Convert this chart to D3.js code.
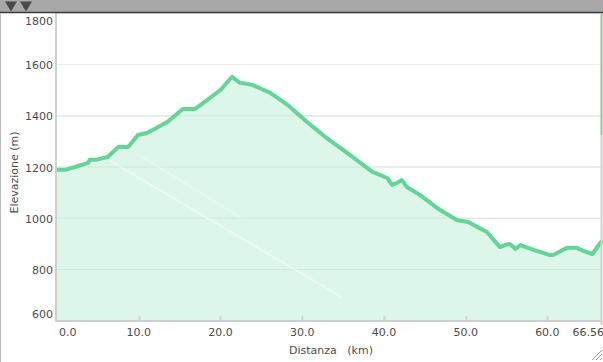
<!DOCTYPE html>
<html>
<head>
<meta charset="utf-8">
<style>
  body{
    margin:0;
    background-color:#fff;
  }
  #vis{
    display:block;
  }
</style>
<script src="https://d3js.org/d3.v7.min.js"></script>
</head>
<body>
<svg id="vis"></svg>
<script>
  var width = 603,
    height = 362,
    //colors
    lineColor = "#62d597",
    fillColor = "#dcf6e9",
    gridColor = "#ededed",
    textColor = "#4d4d4d";

  // data -------------------------------------------------
  var distKm = [0, 1.0, 2.2, 3.8, 4.0, 4.7, 6.2, 7.5, 8.7, 9.9, 11.0, 12.2, 13.5, 15.4, 16.9, 18.4,
    20.0, 21.4, 22.4, 23.9, 26.1, 28.2, 30.6, 32.8, 35.0, 38.6, 40.4, 41.0, 41.6, 42.2, 42.8,
    44.4, 46.5, 48.9, 50.3, 52.6, 54.2, 54.8, 55.4, 56.1, 56.7, 58.3, 60.3, 60.7, 62.4, 63.6,
    64.4, 65.5, 66.56];
  var elevM = [1187, 1187, 1198, 1214, 1226, 1226, 1237, 1276, 1276, 1323, 1331, 1351, 1374, 1425, 1425, 1460,
    1499, 1550, 1527, 1519, 1488, 1441, 1374, 1316, 1265, 1179, 1155, 1128, 1136, 1147, 1120,
    1089, 1038, 991, 983, 944, 885, 893, 897, 878, 893, 874, 854, 854, 882, 882,
    870, 858, 905];
  var xTicks = [0, 10, 20, 30, 40, 50, 60];
  var xTickLabels = ["0.0", "10.0", "20.0", "30.0", "40.0", "50.0", "60.0"];
  var xEndLabel = "66.56";
  var yTicks = [600, 800, 1000, 1200, 1400, 1600, 1800];
  var xTitle = "Distanza   (km)";
  var yTitle = "Elevazione (m)";

  var data = distKm.map(function(d, i){ return {x: d, y: elevM[i]}; });

  // scaling
  var pLeft = 57, pRight = 601, pTop = 13, pBottom = 320;
  var xscale = d3.scaleLinear().domain([0, 66.56]).range([pLeft, pRight]);
  var yscale = d3.scaleLinear().domain([600, 1800]).range([pBottom, pTop]);

  var svg = d3.select("#vis")
    .attr("width", width)
    .attr("height", height)
    .style("font-family", "'DejaVu Sans', Verdana, sans-serif");

  // grid -------------------------------------------------
  svg.selectAll(".grid")
    .data(yTicks.slice(1))
    .enter().append("line")
    .attr("class", "grid")
    .attr("x1", pLeft).attr("x2", pRight)
    .attr("y1", d => yscale(d) + 0.5).attr("y2", d => yscale(d) + 0.5)
    .style("stroke", gridColor)
    .style("stroke-width", 1);

  // area + line -------------------------------------------------
  var area = d3.area()
    .x(d => xscale(d.x))
    .y0(pBottom)
    .y1(d => yscale(d.y));
  var line = d3.line()
    .x(d => xscale(d.x))
    .y(d => yscale(d.y));

  svg.append("path")
    .datum(data)
    .attr("d", area)
    .style("fill", fillColor);

  // grid over fill (slightly visible)
  svg.selectAll(".grid2")
    .data(yTicks.slice(1, 5))
    .enter().append("line")
    .attr("class", "grid2")
    .attr("x1", pLeft).attr("x2", pRight)
    .attr("y1", d => yscale(d) + 0.5).attr("y2", d => yscale(d) + 0.5)
    .style("stroke", "#c8e6d6")
    .style("stroke-opacity", 0.7);

  // faint glare streaks inside the fill
  var streaks = [
    [{x: 6.5, y: 1222}, {x: 34.8, y: 690}],
    [{x: 10, y: 1245}, {x: 22.5, y: 1000}]
  ];
  svg.selectAll(".streak")
    .data(streaks)
    .enter().append("path")
    .attr("class", "streak")
    .attr("d", line)
    .style("fill", "none")
    .style("stroke", "#fff")
    .style("stroke-width", 2)
    .style("stroke-opacity", (d, i) => i === 0 ? 0.4 : 0.25);

  svg.append("path")
    .datum(data)
    .attr("d", line)
    .style("fill", "none")
    .style("stroke", lineColor)
    .style("stroke-width", 4)
    .style("stroke-linejoin", "round")
    .style("stroke-linecap", "round");

  // axes -------------------------------------------------
  svg.append("line")
    .attr("x1", pLeft - 1).attr("x2", pLeft - 1)
    .attr("y1", pTop).attr("y2", pBottom + 2)
    .style("stroke", "#cfcfcf").style("stroke-width", 2);
  svg.append("line")
    .attr("x1", pLeft - 2).attr("x2", pRight)
    .attr("y1", pBottom + 1).attr("y2", pBottom + 1)
    .style("stroke", "#cfcfcf").style("stroke-width", 2);

  // x ticks
  svg.selectAll(".xtick")
    .data(xTicks.slice(1))
    .enter().append("line")
    .attr("class", "xtick")
    .attr("x1", d => Math.round(xscale(d)) + 0.5).attr("x2", d => Math.round(xscale(d)) + 0.5)
    .attr("y1", pBottom - 4).attr("y2", pBottom)
    .style("stroke", "#d4d4d4").style("stroke-width", 2);

  svg.selectAll(".xlabel")
    .data(xTicks)
    .enter().append("text")
    .attr("class", "xlabel")
    .attr("x", (d, i) => i === 0 ? xscale(d) + 2 : xscale(d))
    .attr("y", 336)
    .attr("text-anchor", (d, i) => i === 0 ? "start" : "middle")
    .style("font-size", "11px")
    .style("fill", textColor)
    .text((d, i) => xTickLabels[i]);

  svg.append("text")
    .attr("x", width + 1)
    .attr("y", 336)
    .attr("text-anchor", "end")
    .style("font-size", "11px")
    .style("fill", textColor)
    .text(xEndLabel);

  // y labels
  svg.selectAll(".ylabel")
    .data(yTicks)
    .enter().append("text")
    .attr("class", "ylabel")
    .attr("x", 53)
    .attr("y", d => d === 1800 ? 25 : d === 600 ? yscale(d) - 2 : yscale(d) + 5)
    .attr("text-anchor", "end")
    .style("font-size", "11px")
    .style("fill", textColor)
    .text(d => d);

  // titles
  svg.append("text")
    .attr("x", (pLeft + pRight) / 2 + 2)
    .attr("y", 354)
    .attr("text-anchor", "middle")
    .style("font-size", "11px")
    .style("fill", textColor)
    .style("white-space", "pre")
    .attr("xml:space", "preserve")
    .text(xTitle);

  svg.append("text")
    .attr("transform", "translate(18," + ((pTop + pBottom) / 2 + 6) + ") rotate(-90)")
    .attr("text-anchor", "middle")
    .style("font-size", "11px")
    .style("fill", textColor)
    .text(yTitle);

  // frame: header bar, borders -------------------------------------------------
  svg.append("rect")
    .attr("x", 0).attr("y", 0)
    .attr("width", width).attr("height", 12)
    .style("fill", "#a8a8a8");
  svg.append("line")
    .attr("x1", 0).attr("x2", width)
    .attr("y1", 12.5).attr("y2", 12.5)
    .style("stroke", "#3a3a3a").style("stroke-width", 1.5);

  var arrows = [11, 26];
  svg.selectAll(".arrow")
    .data(arrows)
    .enter().append("path")
    .attr("class", "arrow")
    .attr("d", d => "M" + (d - 6) + ",1.5 L" + (d + 6) + ",1.5 L" + d + ",11.5 Z")
    .style("fill", "#4a4a4a");

  svg.append("line")
    .attr("x1", 0.5).attr("x2", 0.5)
    .attr("y1", 13).attr("y2", height)
    .style("stroke", "#bbb");

  svg.append("line")
    .attr("x1", 601.5).attr("x2", 601.5)
    .attr("y1", 13).attr("y2", 135)
    .style("stroke", "#8fc48f").style("stroke-width", 2);
  svg.append("line")
    .attr("x1", 601.5).attr("x2", 601.5)
    .attr("y1", 135).attr("y2", 325)
    .style("stroke", "#d0d0d0").style("stroke-width", 2);

  // resize grip
  svg.selectAll(".grip")
    .data([0, 4, 8])
    .enter().append("line")
    .attr("class", "grip")
    .attr("x1", d => 600 - d).attr("y1", 360)
    .attr("x2", 602).attr("y2", d => 358 - d)
    .style("stroke", "#999").style("stroke-width", 1);
</script>
</body>
</html>
